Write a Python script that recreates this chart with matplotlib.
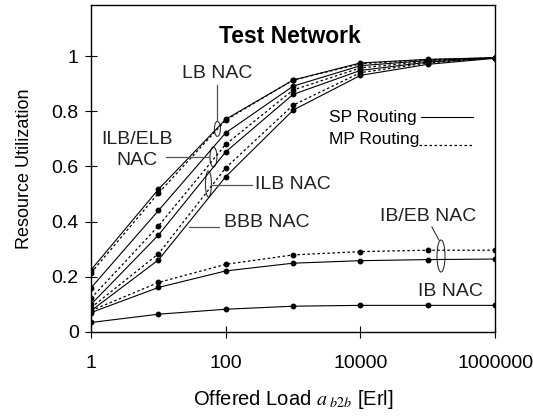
import matplotlib
matplotlib.use('Agg')

import matplotlib.pyplot as plt
from matplotlib.patches import Ellipse
from matplotlib.transforms import ScaledTranslation
from matplotlib.ticker import FixedLocator, FixedFormatter, NullLocator

plt.rcParams['font.family'] = ['Liberation Sans', 'DejaVu Sans']
plt.rcParams['mathtext.fontset'] = 'stix'

##########################################################################
## Data
##########################################################################

load = [1, 10, 100, 1000, 1e4, 1e5, 1e6]

lb_sp = [0.225, 0.517, 0.771, 0.913, 0.975, 0.988, 0.994]
lb_mp = [0.214, 0.503, 0.768, 0.913, 0.972, 0.987, 0.994]
ilb_elb_sp = [0.160, 0.440, 0.722, 0.891, 0.965, 0.984, 0.994]
ilb_elb_mp = [0.122, 0.384, 0.680, 0.877, 0.957, 0.981, 0.993]
ilb_sp = [0.100, 0.351, 0.653, 0.861, 0.948, 0.978, 0.993]
ilb_mp = [0.088, 0.283, 0.595, 0.822, 0.940, 0.975, 0.993]
bbb_sp = [0.077, 0.261, 0.563, 0.804, 0.930, 0.970, 0.992]
ib_eb_sp = [0.070, 0.161, 0.221, 0.249, 0.258, 0.262, 0.264]
ib_eb_mp = [0.077, 0.179, 0.245, 0.279, 0.291, 0.296, 0.296]
ib = [0.034, 0.064, 0.082, 0.093, 0.096, 0.096, 0.096]

xticks = [1, 100, 10000, 1000000]
xtick_labels = ['1', '100', '10000', '1000000']
yticks = [0, 0.2, 0.4, 0.6, 0.8, 1.0]
ytick_labels = ['0', '0.2', '0.4', '0.6', '0.8', '1']

solid = [lb_sp, ilb_elb_sp, ilb_sp, bbb_sp, ib_eb_sp, ib]
dotted = [lb_mp, ilb_elb_mp, ilb_mp, ib_eb_mp]

##########################################################################
## Drawing
##########################################################################

fig = plt.figure(figsize=(5.33, 4.19), dpi=100)
ax = fig.add_axes([0.171, 0.208, 0.758, 0.780])

for ys in dotted:
    ax.plot(load, ys, color='black', lw=0.9, ls=(0, (2, 2)),
            marker='o', ms=3.2)
for ys in solid:
    ax.plot(load, ys, color='black', lw=0.8, ls='-', marker='o', ms=3.2)

ax.set_xscale('log')
ax.set_xlim(1, 1e6)
ax.set_ylim(0, 1.185)

ax.xaxis.set_major_locator(FixedLocator(xticks))
ax.xaxis.set_major_formatter(FixedFormatter(xtick_labels))
ax.xaxis.set_minor_locator(NullLocator())
ax.yaxis.set_major_locator(FixedLocator(yticks))
ax.yaxis.set_major_formatter(FixedFormatter(ytick_labels))

ax.tick_params(axis='both', direction='inout', length=8, width=0.8,
               labelsize=14, colors='black')
ax.tick_params(axis='x', pad=13)
ax.tick_params(axis='y', pad=5)
for sp in ax.spines.values():
    sp.set_linewidth(1.0)

ax.set_ylabel('Resource Utilization', fontsize=13, labelpad=13)
ax.set_xlabel(r'Offered Load $a_{\ b2b}$ [Erl]', fontsize=14.5, labelpad=11)

ax.text(0.491, 0.905, 'Test Network', transform=ax.transAxes,
        ha='center', va='center', fontsize=16.5, fontweight='bold')

# annotations
txt = dict(fontsize=14, color='#222222')
ax.text(75, 0.935, 'LB NAC', ha='center', va='center', **txt)
ax.plot([75, 75], [0.895, 0.764], color='#555555', lw=0.9)

ax.text(4.84, 0.659, 'ILB/ELB\nNAC', ha='center', va='center',
        linespacing=1.25, **txt)
ax.plot([13.1, 57.1], [0.634, 0.634], color='#555555', lw=0.9)

ax.text(267, 0.533, 'ILB NAC', ha='left', va='center', **txt)
ax.plot([61.2, 241], [0.533, 0.533], color='#555555', lw=0.9)

ax.text(95.5, 0.395, 'BBB NAC', ha='left', va='center', **txt)
ax.plot([28.8, 80.5], [0.38, 0.38], color='#555555', lw=0.9)

ax.text(100500, 0.42, 'IB/EB NAC', ha='center', va='center', **txt)
ax.plot([115000, 146000], [0.38, 0.333], color='#333333', lw=0.8)

ax.text(214000, 0.145, 'IB NAC', ha='center', va='center', **txt)

# routing key
ax.text(3375, 0.779, 'SP Routing', ha='left', va='center', fontsize=12.5)
ax.plot([80000, 470000], [0.779, 0.779], color='black', lw=0.8)
ax.text(3375, 0.696, 'MP Routing', ha='left', va='center', fontsize=12.5)
ax.plot([75000, 470000], [0.678, 0.678], color='black', lw=0.9,
        ls=(0, (2, 2)))

# ellipses grouping curve pairs (sizes in inches)
def ring(x, y, w, h):
    tr = fig.dpi_scale_trans + ScaledTranslation(x, y, ax.transData)
    ax.add_patch(Ellipse((0, 0), w, h, transform=tr, fill=False,
                         edgecolor='#333333', lw=0.8))

ring(75, 0.736, 0.06, 0.15)
ring(65.5, 0.634, 0.07, 0.20)
ring(55.2, 0.536, 0.06, 0.26)
ring(157000, 0.275, 0.08, 0.32)

fig.savefig('out.png', dpi=100)
